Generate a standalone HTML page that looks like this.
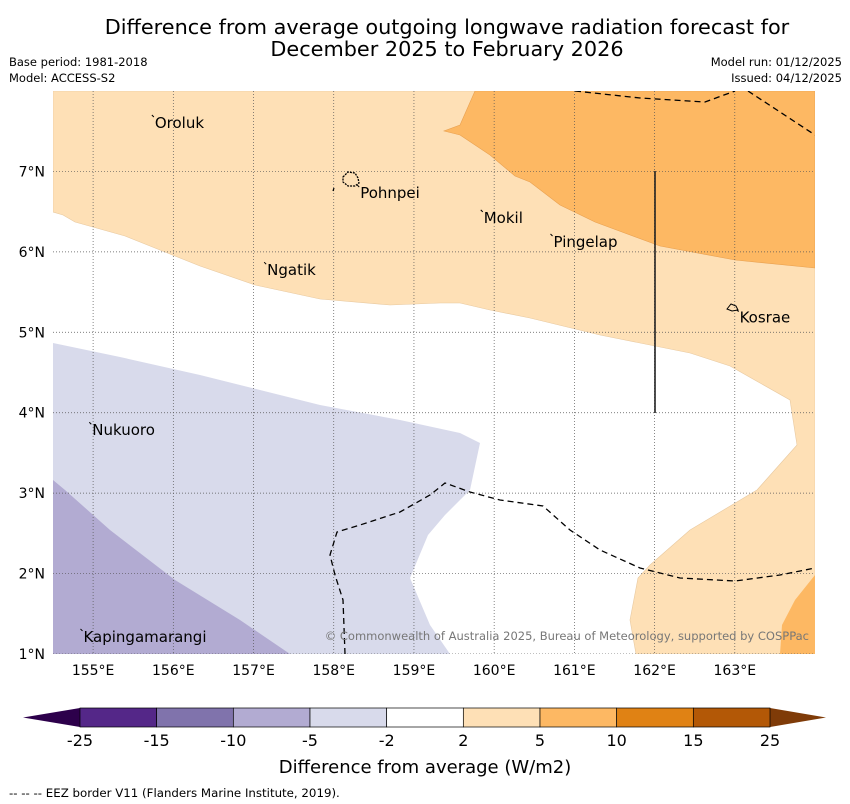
<!DOCTYPE html>
<html><head><meta charset="utf-8"><style>
body{margin:0;background:#fff;width:850px;height:804px;overflow:hidden;font-family:"DejaVu Sans","Liberation Sans",sans-serif}
svg{display:block}
</style></head><body>
<svg id="chart" width="850" height="804" viewBox="0 0 850 804">
<text x="447" y="34" font-size="20.8" text-anchor="middle">Difference from average outgoing longwave radiation forecast for</text>
<text x="447" y="56" font-size="20.8" text-anchor="middle">December 2025 to February 2026</text>
<text x="9" y="66" font-size="11.5">Base period: 1981-2018</text>
<text x="9" y="82" font-size="11.5">Model: ACCESS-S2</text>
<text x="842" y="66" font-size="11.5" text-anchor="end">Model run: 01/12/2025</text>
<text x="842" y="82" font-size="11.5" text-anchor="end">Issued: 04/12/2025</text>
<defs><clipPath id="mapclip"><rect x="53" y="91" width="762" height="563"/></clipPath></defs>
<g clip-path="url(#mapclip)">
<rect x="53" y="91" width="762" height="563" fill="#fff"/>
<polygon fill="#fee0b6" stroke="#e8c9a0" stroke-width="0.6" points="53,91 815,91 815,654 636,654 630,620 638,578 650,565 690,530 757,490 797,445 790,400 730,366 690,353 600,335 530,318 490,310 460,303 440,303 390,305 320,299 255,285 200,266 165,252 125,236 75,222 63,215 53,212"/>
<polygon fill="#fdb863" stroke="#e8a050" stroke-width="0.6" points="475,91 460,125 444,131 460,135 490,155 515,176 530,182 560,205 595,222 660,246 735,260 815,268 815,91"/>
<polygon fill="#fdb863" points="815,575 795,600 782,625 780,654 815,654"/>
<polygon fill="#d8daeb" points="53,343 120,357 200,375 260,390 320,405 400,420 460,433 480,443 470,490 445,515 428,535 410,578 430,625 450,654 53,654"/>
<polygon fill="#b2abd2" points="53,480 65,490 110,530 175,580 240,620 290,654 53,654"/>
<g id="grid"></g>
<polyline fill="none" stroke="#000" stroke-width="1.3" stroke-dasharray="6,4" points="345,654 343,600 335,575 330,555 337,532 360,525 400,512 430,495 445,483 470,492 500,500 543,506 570,530 600,550 640,568 680,578 735,581 780,575 815,568"/>
<polyline fill="none" stroke="#000" stroke-width="1.3" stroke-dasharray="6,4" points="575,91 640,98 705,102 735,91"/>
<polyline fill="none" stroke="#000" stroke-width="1.3" stroke-dasharray="6,4" points="748,91 780,112 815,135"/>
<line x1="655" y1="171" x2="655" y2="413" stroke="#222" stroke-width="1.6"/>
<path d="M343,177 l5,-5 7,1 3,5 1,5 -4,3 -7,0 -5,-4z" fill="none" stroke="#000" stroke-width="1.3" stroke-dasharray="2,1"/>
<line x1="334" y1="188" x2="333" y2="191" stroke="#000" stroke-width="1.2"/>
<path d="M727,309 l4,-5 5,2 2,4 -6,1z" fill="none" stroke="#000" stroke-width="1"/>
<g id="places"></g>
<text x="809" y="640" font-size="11.5" fill="#777" text-anchor="end">© Commonwealth of Australia 2025, Bureau of Meteorology, supported by COSPPac</text>
</g>
<g id="axes"></g>
<g id="cbar"></g>
<text x="425" y="773" font-size="18" text-anchor="middle">Difference from average (W/m2)</text>
<text x="9" y="797" font-size="11.8">--  --  -- EEZ border V11 (Flanders Marine Institute, 2019).</text>
</svg>
<script>
const lonTicks=[155,156,157,158,159,160,161,162,163];
const latTicks=[1,2,3,4,5,6,7];
const placeNames=["Oroluk","Pohnpei","Mokil","Pingelap","Ngatik","Kosrae","Nukuoro","Kapingamarangi"];
const placeLon=[155.77,158.33,159.87,160.74,157.17,163.06,154.99,154.88];
const placeLat=[7.54,6.67,6.36,6.06,5.71,5.12,3.72,1.15];
const cbLevels=[-25,-15,-10,-5,-2,2,5,10,15,25];
const cbColors=["#542788","#8073ac","#b2abd2","#d8daeb","#ffffff","#fee0b6","#fdb863","#e08214","#b35806"];
const NS="http://www.w3.org/2000/svg";
const lonMin=154.5,lonMax=164,latMin=1,latMax=8,X0=53,X1=815,Y0=91,Y1=654;
const xs=l=>X0+(l-lonMin)/(lonMax-lonMin)*(X1-X0);
const ys=l=>Y1-(l-latMin)/(latMax-latMin)*(Y1-Y0);
function mk(t,a,p){const e=document.createElementNS(NS,t);for(const k in a)e.setAttribute(k,a[k]);p.appendChild(e);return e;}
const grid=document.getElementById('grid'),axes=document.getElementById('axes');
lonTicks.forEach(l=>{
 const g=mk('line',{x1:xs(l),x2:xs(l),y1:Y0,y2:Y1,stroke:'#555','stroke-width':0.7,'stroke-dasharray':'1,2'},grid);
 
 
 const t=mk('text',{x:xs(l),y:675,'font-size':14,'text-anchor':'middle'},axes);t.textContent=l+'°E';
 
 
});
latTicks.forEach(l=>{
 const g=mk('line',{x1:X0,x2:X1,y1:ys(l),y2:ys(l),stroke:'#555','stroke-width':0.7,'stroke-dasharray':'1,2'},grid);
 
 
 const t=mk('text',{x:45,y:ys(l)+5,'font-size':14,'text-anchor':'end'},axes);t.textContent=l+'°N';
 
 
});
const places=document.getElementById('places');
placeNames.forEach((n,i)=>{
 const x=xs(placeLon[i]),y=ys(placeLat[i]);
 const m=mk('line',{x1:x-3,y1:y-13,x2:x-1,y2:y-11,stroke:'#000','stroke-width':1},places);
 
 
 const t=mk('text',{x:x,y:y,'font-size':15},places);t.textContent=n;
 
 
});
const cb=document.getElementById('cbar');
const cbX0=80,cbX1=770,cbY=708,cbH=19,n=cbLevels.length-1;
const cx=i=>cbX0+i*(cbX1-cbX0)/n;
const lt=mk('polygon',{points:`23,${cbY+cbH/2} ${cbX0},${cbY} ${cbX0},${cbY+cbH}`,fill:'#2d004b'},cb);


const rt=mk('polygon',{points:`826,${cbY+cbH/2} ${cbX1},${cbY} ${cbX1},${cbY+cbH}`,fill:'#7f3b08'},cb);


cbColors.forEach((c,i)=>{
 const r=mk('rect',{x:cx(i),y:cbY,width:cx(i+1)-cx(i),height:cbH,fill:c,stroke:'#000','stroke-width':0.7},cb);
 
 
});
cbLevels.forEach((v,i)=>{
 const t=mk('text',{x:cx(i),y:746,'font-size':16,'text-anchor':'middle'},cb);t.textContent=v;
 
 
});
</script>
</body></html>
